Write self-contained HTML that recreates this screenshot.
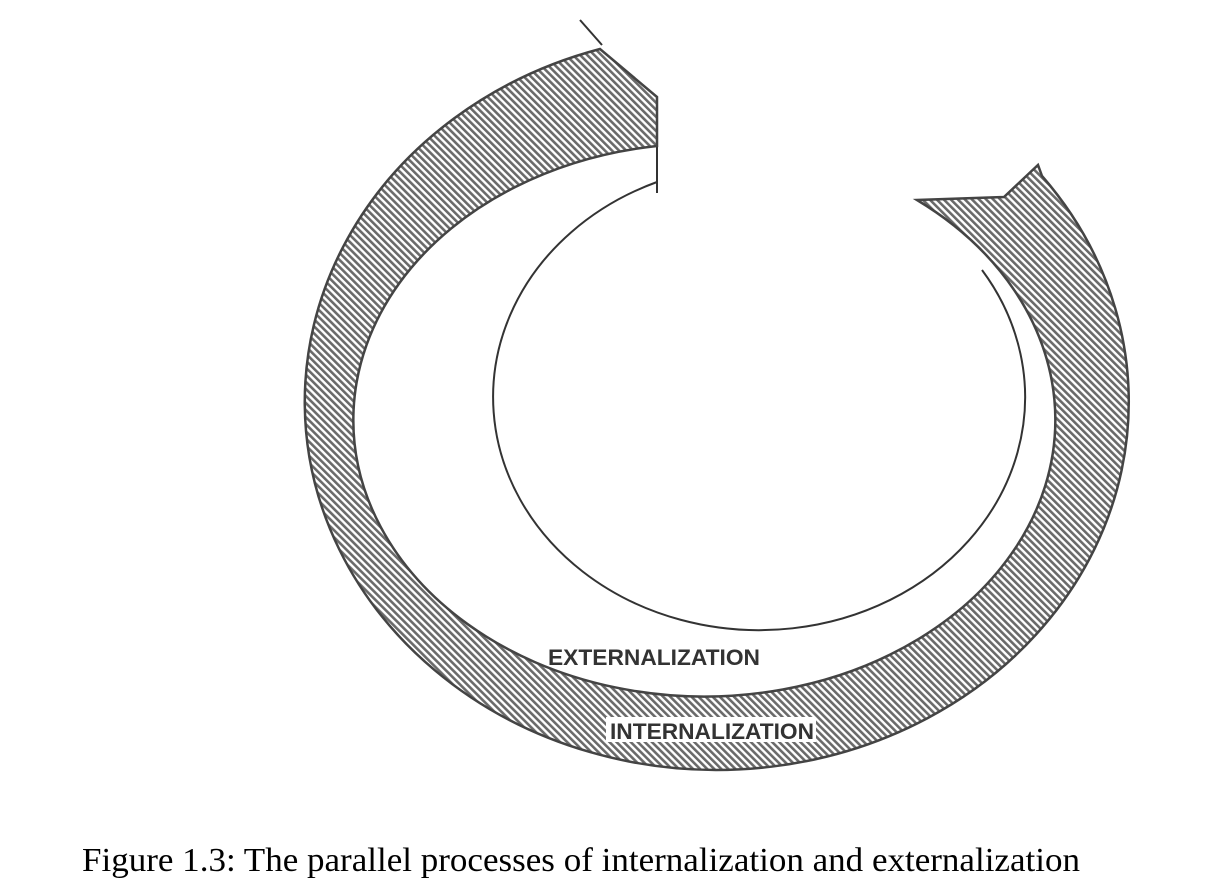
<!DOCTYPE html>
<html><head><meta charset="utf-8"><style>
html,body{margin:0;padding:0;background:#fff;}
svg{display:block;}
</style></head><body>
<svg width="1218" height="896" viewBox="0 0 1218 896" xmlns="http://www.w3.org/2000/svg">
<defs>
<pattern id="h" width="5" height="5" patternUnits="userSpaceOnUse" patternTransform="rotate(-45)">
<rect width="5" height="5" fill="#fff"/>
<rect x="0" y="0" width="2.6" height="5" fill="#6a6a6a"/>
</pattern>
</defs>
<rect width="1218" height="896" fill="#fff"/>
<path d="M657,182 A266,233 0 1,0 982,270" fill="none" stroke="#333" stroke-width="2"/>
<line x1="657" y1="140" x2="657" y2="193" stroke="#333" stroke-width="2"/>
<line x1="580" y1="20" x2="602" y2="45" stroke="#333" stroke-width="2"/>
<path d="M600,49 A412,368 0 1,0 1042,176 L1038,165 L1004,197 L917,200 A351,276.5 0 1,1 657,146 L657,97 Z" fill="url(#h)" stroke="#444" stroke-width="2.5" stroke-linejoin="miter"/>
<text x="548" y="665" font-family="Liberation Sans, sans-serif" font-size="22" font-weight="bold" fill="#333" textLength="212" lengthAdjust="spacingAndGlyphs">EXTERNALIZATION</text>
<rect x="606" y="717" width="210" height="25" fill="#fff"/>
<text x="610" y="739" font-family="Liberation Sans, sans-serif" font-size="22" font-weight="bold" fill="#333" textLength="204" lengthAdjust="spacingAndGlyphs">INTERNALIZATION</text>
<text x="82" y="871" font-family="Liberation Serif, serif" font-size="34" fill="#000" textLength="998" lengthAdjust="spacingAndGlyphs">Figure 1.3: The parallel processes of internalization and externalization</text>
</svg>
</body></html>
